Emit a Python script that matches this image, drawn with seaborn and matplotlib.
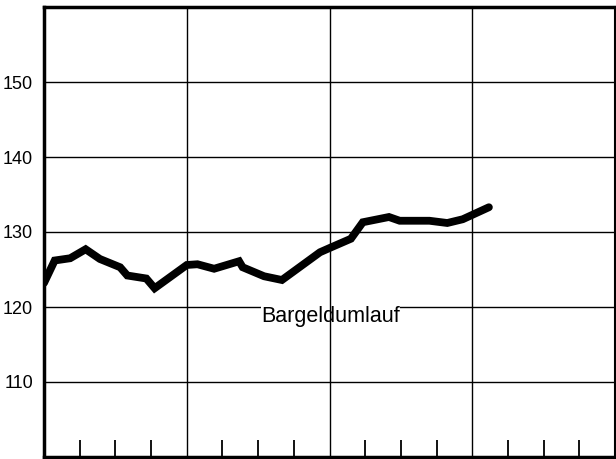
import matplotlib
matplotlib.use("Agg")
import matplotlib.pyplot as plt
import seaborn as sns
import pandas as pd
import numpy as np

# months since start (vertex positions) and index values
months = [0, 0.9, 2.2, 3.5, 4.7, 6.4, 7.0, 8.6, 9.3, 12.0, 12.9, 14.3, 16.4, 16.7,
          18.5, 20.0, 23.2, 24.2, 25.8, 26.8, 29.0, 29.9, 32.4, 33.9, 35.2, 37.4]
values = [123.2, 126.2, 126.5, 127.7, 126.4, 125.3, 124.2, 123.8, 122.5, 125.6, 125.7,
          125.1, 126.1, 125.3, 124.1, 123.6, 127.3, 128.0, 129.1, 131.3, 132.0, 131.5,
          131.5, 131.2, 131.7, 133.3]
y_ticks = [110, 120, 130, 140, 150]
year_lines = [12, 24, 36]
quarter_ticks = [3, 6, 9, 15, 18, 21, 27, 30, 33, 39, 42, 45]
series_label = "Bargeldumlauf"

sns.set_style("white")
plt.rcParams['font.family'] = ['Liberation Sans', 'DejaVu Sans']

fig = plt.figure(figsize=(6.16, 4.59), dpi=100)
ax = fig.add_axes([44/616, 2/459, (615-44)/616, (457-7)/459])

df = pd.DataFrame({"month": months, "value": values})
sns.lineplot(data=df, x="month", y="value", ax=ax, color="black", linewidth=5.6,
             solid_capstyle="round", solid_joinstyle="miter", zorder=5)

ax.set_xlim(0, 48)
ax.set_ylim(100, 160)

for y in y_ticks:
    ax.axhline(y, color="black", linewidth=1.0, zorder=1)
for x in year_lines:
    ax.axvline(x, color="black", linewidth=1.0, zorder=3)

ax.set_yticks(y_ticks)
ax.set_yticklabels([str(v) for v in y_ticks], fontsize=13, color="black")
ax.tick_params(axis="y", left=False, length=0, pad=8, labelcolor="black")
ax.set_xticks(quarter_ticks)
ax.set_xticklabels([])
ax.tick_params(axis="x", bottom=True, direction="in", length=12, width=1.3,
               color="black")

ax.set_xlabel("")
ax.set_ylabel("")

for side, lw in [("left", 2.5), ("bottom", 2.5), ("top", 2.5), ("right", 1.5)]:
    ax.spines[side].set_visible(True)
    ax.spines[side].set_linewidth(lw)
    ax.spines[side].set_color("black")

ax.text(24.1, 120.1, series_label, ha="center", va="top", fontsize=15.5,
        color="black", zorder=2,
        bbox=dict(facecolor="white", edgecolor="none", pad=0))

fig.savefig("out.png", dpi=100)
